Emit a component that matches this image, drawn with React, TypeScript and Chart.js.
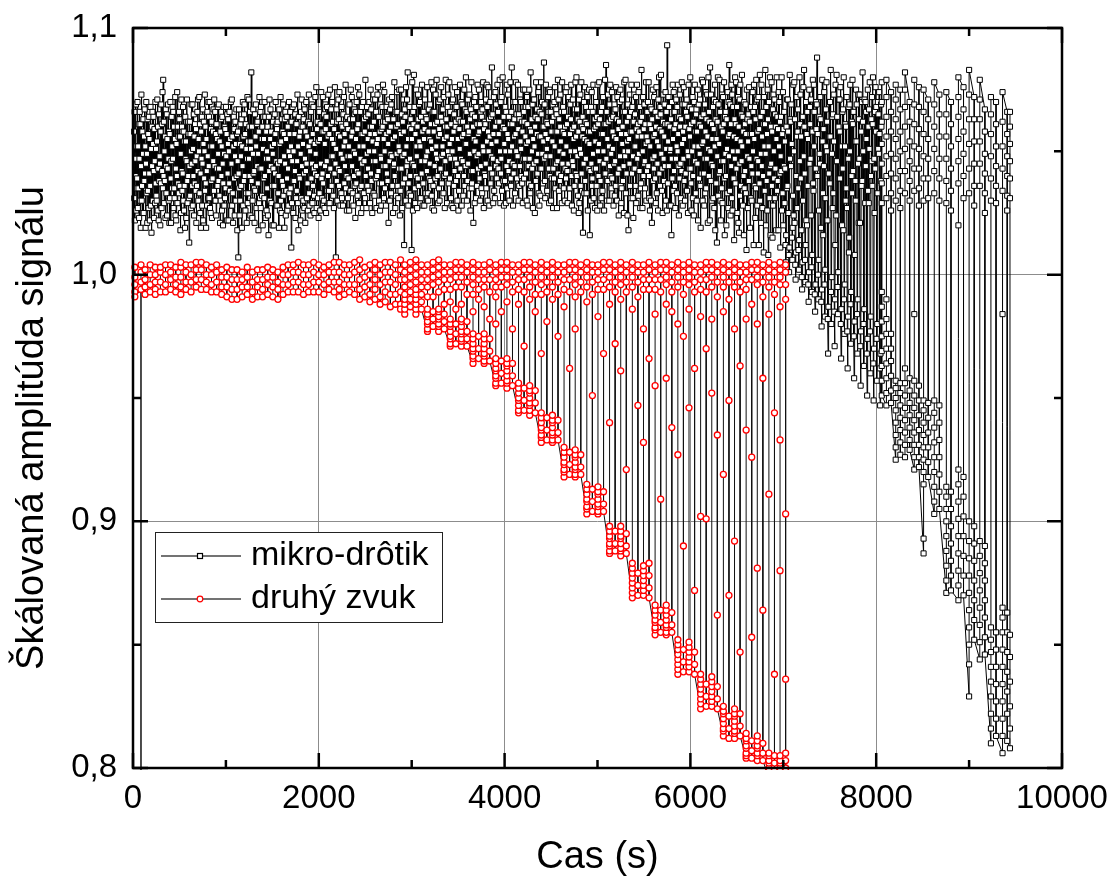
import React, { useEffect, useRef } from "react";
import { Chart, registerables } from "chart.js";

Chart.register(...registerables);

const FONT = '"Liberation Sans", Arial, Helvetica, sans-serif';

// ---- axes / labels ----
const xMajorTicks = [0, 2000, 4000, 6000, 8000, 10000];
const xMinorTicks = [1000, 3000, 5000, 7000, 9000];
const yMajorTicks = [0.8, 0.9, 1.0, 1.1];
const yMinorTicks = [0.85, 0.95, 1.05];
const xGridValues = [2000, 4000, 6000, 8000];
const yGridValues = [0.9, 1.0];
const seriesLabels = ["mikro-drôtik", "druhý zvuk"];
const xTitle = "Cas (s)";
const yTitle = "Škálovaná amplitúda signálu";

// ---- data ----
// each row = [start time (s), amplitudes in recorded order]
// sampled rows: consecutive amplitudes are SAMPLE_DT seconds apart
// burst rows: all amplitudes of the row belong to the same time
const SAMPLE_DT = 3.5;

// mikro-drôtik, steady part (sampled)
const blackNoise: number[][] = [
  [10, 1.058, 1.031, 1.066, 1.022, 1.047, 1.040, 1.069, 1.026, 1.052, 1.035],
  [45, 1.039, 1.070, 1.027, 1.052, 1.035, 1.061, 1.023, 1.047, 1.066, 1.030],
  [80, 1.061, 1.019, 1.044, 1.073, 1.030, 1.036, 1.058, 1.025, 1.049, 1.063],
  [115, 1.025, 1.056, 1.038, 1.067, 1.041, 1.052, 1.019, 1.045, 1.070, 1.033],
  [150, 1.049, 1.021, 1.063, 1.034, 1.057, 1.027, 1.064, 1.041, 1.055, 1.022],
  [185, 1.036, 1.068, 1.028, 1.051, 1.017, 1.060, 1.044, 1.066, 1.030, 1.053],
  [220, 1.064, 1.042, 1.023, 1.059, 1.046, 1.029, 1.070, 1.037, 1.051, 1.032],
  [255, 1.030, 1.054, 1.071, 1.026, 1.060, 1.043, 1.022, 1.065, 1.038, 1.048],
  [290, 1.045, 1.020, 1.058, 1.037, 1.069, 1.027, 1.061, 1.042, 1.074, 1.035],
  [325, 1.079, 1.040, 1.062, 1.029, 1.050, 1.038, 1.056, 1.023, 1.067, 1.044],
  [360, 1.033, 1.065, 1.024, 1.055, 1.043, 1.069, 1.047, 1.030, 1.058, 1.021],
  [395, 1.057, 1.031, 1.070, 1.039, 1.021, 1.046, 1.064, 1.035, 1.052, 1.068],
  [430, 1.047, 1.066, 1.027, 1.060, 1.035, 1.031, 1.055, 1.072, 1.024, 1.043],
  [465, 1.022, 1.053, 1.040, 1.074, 1.029, 1.060, 1.037, 1.056, 1.033, 1.066],
  [500, 1.063, 1.036, 1.056, 1.018, 1.049, 1.025, 1.071, 1.042, 1.060, 1.034],
  [535, 1.041, 1.068, 1.030, 1.058, 1.026, 1.054, 1.036, 1.019, 1.064, 1.047],
  [570, 1.054, 1.023, 1.046, 1.071, 1.038, 1.029, 1.062, 1.040, 1.057, 1.031],
  [605, 1.013, 1.044, 1.062, 1.032, 1.057, 1.050, 1.027, 1.069, 1.045, 1.036],
  [640, 1.069, 1.028, 1.051, 1.040, 1.065, 1.024, 1.056, 1.037, 1.061, 1.046],
  [675, 1.034, 1.059, 1.021, 1.048, 1.036, 1.066, 1.042, 1.071, 1.030, 1.055],
  [710, 1.050, 1.072, 1.033, 1.061, 1.025, 1.041, 1.019, 1.058, 1.047, 1.064],
  [745, 1.028, 1.045, 1.067, 1.022, 1.053, 1.062, 1.039, 1.050, 1.073, 1.034],
  [780, 1.060, 1.037, 1.019, 1.055, 1.042, 1.028, 1.066, 1.048, 1.031, 1.070],
  [815, 1.044, 1.064, 1.031, 1.070, 1.027, 1.052, 1.025, 1.059, 1.038, 1.062],
  [850, 1.023, 1.052, 1.039, 1.058, 1.046, 1.067, 1.034, 1.071, 1.044, 1.030],
  [885, 1.066, 1.030, 1.057, 1.024, 1.061, 1.043, 1.055, 1.036, 1.068, 1.049],
  [920, 1.038, 1.069, 1.043, 1.032, 1.054, 1.021, 1.058, 1.030, 1.063, 1.040],
  [955, 1.052, 1.026, 1.064, 1.045, 1.020, 1.037, 1.068, 1.049, 1.028, 1.060],
  [990, 1.031, 1.059, 1.035, 1.068, 1.048, 1.057, 1.022, 1.065, 1.041, 1.053],
  [1025, 1.063, 1.022, 1.050, 1.037, 1.066, 1.034, 1.055, 1.028, 1.070, 1.045],
  [1060, 1.045, 1.071, 1.028, 1.056, 1.033, 1.021, 1.052, 1.064, 1.039, 1.059],
  [1095, 1.024, 1.048, 1.062, 1.030, 1.053, 1.067, 1.040, 1.057, 1.018, 1.046],
  [1130, 1.058, 1.007, 1.041, 1.067, 1.035, 1.024, 1.053, 1.030, 1.061, 1.048],
  [1165, 1.036, 1.063, 1.019, 1.052, 1.044, 1.070, 1.028, 1.056, 1.038, 1.065],
  [1200, 1.069, 1.040, 1.057, 1.026, 1.061, 1.033, 1.051, 1.021, 1.047, 1.072],
  [1235, 1.029, 1.054, 1.033, 1.071, 1.047, 1.060, 1.040, 1.066, 1.024, 1.054],
  [1270, 1.051, 1.082, 1.038, 1.060, 1.023, 1.030, 1.049, 1.067, 1.041, 1.035],
  [1305, 1.042, 1.021, 1.065, 1.034, 1.056, 1.069, 1.052, 1.027, 1.061, 1.044],
  [1340, 1.062, 1.037, 1.049, 1.018, 1.058, 1.029, 1.072, 1.043, 1.031, 1.066],
  [1375, 1.027, 1.068, 1.043, 1.055, 1.032, 1.060, 1.020, 1.051, 1.064, 1.039],
  [1410, 1.055, 1.031, 1.070, 1.040, 1.064, 1.023, 1.047, 1.058, 1.026, 1.050],
  [1445, 1.035, 1.060, 1.024, 1.047, 1.016, 1.064, 1.042, 1.071, 1.030, 1.055],
  [1480, 1.067, 1.044, 1.058, 1.029, 1.052, 1.036, 1.020, 1.049, 1.062, 1.043],
  [1515, 1.020, 1.053, 1.036, 1.065, 1.041, 1.057, 1.070, 1.028, 1.046, 1.061],
  [1550, 1.059, 1.028, 1.062, 1.045, 1.033, 1.040, 1.019, 1.067, 1.053, 1.026],
  [1585, 1.046, 1.072, 1.030, 1.054, 1.025, 1.063, 1.038, 1.058, 1.036, 1.069],
  [1620, 1.032, 1.057, 1.048, 1.019, 1.063, 1.045, 1.066, 1.024, 1.055, 1.034],
  [1655, 1.064, 1.039, 1.026, 1.060, 1.043, 1.028, 1.050, 1.070, 1.033, 1.057],
  [1690, 1.048, 1.066, 1.035, 1.052, 1.011, 1.062, 1.029, 1.046, 1.068, 1.038],
  [1725, 1.025, 1.050, 1.069, 1.038, 1.057, 1.042, 1.065, 1.023, 1.061, 1.031],
  [1760, 1.061, 1.034, 1.046, 1.073, 1.029, 1.052, 1.018, 1.064, 1.040, 1.056],
  [1795, 1.039, 1.058, 1.022, 1.049, 1.066, 1.031, 1.071, 1.044, 1.026, 1.060],
  [1830, 1.053, 1.030, 1.063, 1.041, 1.027, 1.067, 1.047, 1.021, 1.058, 1.042],
  [1865, 1.070, 1.045, 1.031, 1.056, 1.037, 1.026, 1.062, 1.052, 1.073, 1.033],
  [1900, 1.028, 1.061, 1.050, 1.024, 1.054, 1.066, 1.039, 1.069, 1.045, 1.029],
  [1935, 1.057, 1.036, 1.068, 1.043, 1.032, 1.025, 1.053, 1.041, 1.072, 1.049],
  [1970, 1.044, 1.076, 1.027, 1.059, 1.040, 1.062, 1.031, 1.054, 1.023, 1.067],
  [2005, 1.066, 1.033, 1.055, 1.026, 1.061, 1.045, 1.074, 1.039, 1.058, 1.031],
  [2040, 1.041, 1.072, 1.037, 1.058, 1.030, 1.065, 1.027, 1.053, 1.044, 1.069],
  [2075, 1.059, 1.025, 1.064, 1.046, 1.068, 1.034, 1.056, 1.040, 1.073, 1.029],
  [2110, 1.034, 1.057, 1.029, 1.075, 1.043, 1.061, 1.048, 1.067, 1.036, 1.055],
  [2145, 1.070, 1.048, 1.062, 1.032, 1.053, 1.027, 1.059, 1.041, 1.076, 1.045],
  [2180, 1.045, 1.007, 1.051, 1.067, 1.038, 1.062, 1.030, 1.057, 1.043, 1.071],
  [2215, 1.063, 1.036, 1.074, 1.042, 1.056, 1.028, 1.049, 1.061, 1.033, 1.068],
  [2250, 1.031, 1.060, 1.047, 1.028, 1.065, 1.052, 1.072, 1.037, 1.057, 1.044],
  [2285, 1.054, 1.077, 1.035, 1.061, 1.040, 1.026, 1.064, 1.048, 1.031, 1.059],
  [2320, 1.039, 1.052, 1.026, 1.069, 1.048, 1.063, 1.034, 1.075, 1.044, 1.056],
  [2355, 1.072, 1.044, 1.058, 1.033, 1.063, 1.028, 1.050, 1.040, 1.067, 1.036],
  [2390, 1.049, 1.023, 1.066, 1.055, 1.037, 1.070, 1.042, 1.059, 1.032, 1.076],
  [2425, 1.061, 1.041, 1.029, 1.073, 1.052, 1.035, 1.066, 1.047, 1.057, 1.025],
  [2460, 1.036, 1.068, 1.045, 1.057, 1.027, 1.070, 1.052, 1.033, 1.063, 1.046],
  [2495, 1.058, 1.031, 1.079, 1.040, 1.064, 1.027, 1.049, 1.068, 1.036, 1.055],
  [2530, 1.043, 1.065, 1.034, 1.050, 1.070, 1.060, 1.029, 1.057, 1.075, 1.041],
  [2565, 1.067, 1.038, 1.060, 1.025, 1.054, 1.046, 1.071, 1.033, 1.062, 1.050],
  [2600, 1.032, 1.057, 1.071, 1.046, 1.039, 1.066, 1.027, 1.053, 1.040, 1.073],
  [2635, 1.055, 1.076, 1.042, 1.064, 1.030, 1.037, 1.058, 1.026, 1.069, 1.048],
  [2670, 1.047, 1.028, 1.059, 1.037, 1.068, 1.060, 1.077, 1.044, 1.055, 1.031],
  [2705, 1.074, 1.050, 1.035, 1.062, 1.044, 1.028, 1.057, 1.068, 1.041, 1.064],
  [2740, 1.038, 1.063, 1.053, 1.021, 1.058, 1.071, 1.046, 1.030, 1.067, 1.049],
  [2775, 1.060, 1.033, 1.069, 1.048, 1.072, 1.036, 1.055, 1.025, 1.063, 1.044],
  [2810, 1.045, 1.078, 1.040, 1.056, 1.027, 1.066, 1.032, 1.060, 1.049, 1.074],
  [2845, 1.066, 1.036, 1.061, 1.031, 1.052, 1.043, 1.075, 1.050, 1.024, 1.058],
  [2880, 1.034, 1.057, 1.075, 1.043, 1.065, 1.027, 1.048, 1.062, 1.037, 1.071],
  [2915, 1.058, 1.012, 1.049, 1.067, 1.039, 1.064, 1.030, 1.076, 1.052, 1.044],
  [2950, 1.071, 1.046, 1.082, 1.055, 1.028, 1.037, 1.060, 1.033, 1.068, 1.047],
  [2985, 1.040, 1.063, 1.032, 1.059, 1.010, 1.055, 1.078, 1.045, 1.026, 1.066],
  [3020, 1.061, 1.081, 1.044, 1.068, 1.035, 1.029, 1.057, 1.040, 1.075, 1.052],
  [3055, 1.048, 1.027, 1.060, 1.039, 1.073, 1.063, 1.036, 1.069, 1.054, 1.031],
  [3090, 1.070, 1.052, 1.031, 1.064, 1.046, 1.041, 1.077, 1.058, 1.028, 1.062],
  [3125, 1.037, 1.066, 1.055, 1.028, 1.059, 1.071, 1.046, 1.033, 1.064, 1.048],
  [3160, 1.063, 1.042, 1.076, 1.050, 1.033, 1.030, 1.058, 1.067, 1.039, 1.055],
  [3195, 1.045, 1.069, 1.038, 1.061, 1.054, 1.078, 1.032, 1.051, 1.027, 1.066],
  [3230, 1.075, 1.036, 1.058, 1.026, 1.066, 1.044, 1.061, 1.039, 1.073, 1.049],
  [3265, 1.052, 1.079, 1.047, 1.062, 1.040, 1.029, 1.056, 1.070, 1.035, 1.059],
  [3300, 1.030, 1.057, 1.071, 1.043, 1.064, 1.076, 1.048, 1.037, 1.062, 1.052],
  [3335, 1.067, 1.049, 1.033, 1.072, 1.055, 1.040, 1.027, 1.060, 1.046, 1.079],
  [3370, 1.041, 1.063, 1.056, 1.029, 1.060, 1.068, 1.050, 1.073, 1.037, 1.048],
  [3405, 1.078, 1.053, 1.039, 1.066, 1.047, 1.031, 1.061, 1.028, 1.055, 1.070],
  [3440, 1.050, 1.071, 1.027, 1.058, 1.036, 1.065, 1.042, 1.076, 1.047, 1.060],
  [3475, 1.062, 1.038, 1.068, 1.045, 1.074, 1.030, 1.055, 1.040, 1.026, 1.063],
  [3510, 1.034, 1.059, 1.051, 1.077, 1.043, 1.062, 1.047, 1.070, 1.028, 1.056],
  [3545, 1.069, 1.046, 1.062, 1.032, 1.057, 1.040, 1.075, 1.036, 1.053, 1.067],
  [3580, 1.044, 1.080, 1.053, 1.066, 1.030, 1.060, 1.038, 1.071, 1.045, 1.057],
  [3615, 1.058, 1.035, 1.073, 1.049, 1.063, 1.026, 1.067, 1.042, 1.078, 1.035],
  [3650, 1.037, 1.065, 1.042, 1.060, 1.021, 1.055, 1.070, 1.050, 1.029, 1.064],
  [3685, 1.072, 1.054, 1.031, 1.068, 1.048, 1.036, 1.061, 1.077, 1.043, 1.057],
  [3720, 1.049, 1.075, 1.058, 1.039, 1.061, 1.030, 1.066, 1.044, 1.070, 1.035],
  [3755, 1.064, 1.033, 1.067, 1.052, 1.078, 1.050, 1.027, 1.059, 1.041, 1.062],
  [3790, 1.040, 1.061, 1.045, 1.071, 1.035, 1.077, 1.054, 1.068, 1.030, 1.058],
  [3825, 1.076, 1.050, 1.063, 1.028, 1.056, 1.043, 1.070, 1.037, 1.064, 1.048],
  [3860, 1.053, 1.084, 1.041, 1.065, 1.047, 1.029, 1.057, 1.072, 1.034, 1.060],
  [3895, 1.031, 1.060, 1.074, 1.044, 1.069, 1.054, 1.039, 1.062, 1.077, 1.046],
  [3930, 1.066, 1.043, 1.057, 1.037, 1.062, 1.079, 1.050, 1.029, 1.070, 1.041],
  [3965, 1.047, 1.072, 1.034, 1.059, 1.080, 1.060, 1.038, 1.064, 1.028, 1.053],
  [4000, 1.059, 1.038, 1.068, 1.050, 1.029, 1.066, 1.044, 1.077, 1.035, 1.057],
  [4035, 1.073, 1.055, 1.042, 1.064, 1.046, 1.030, 1.061, 1.050, 1.078, 1.039],
  [4070, 1.036, 1.066, 1.084, 1.052, 1.061, 1.045, 1.028, 1.070, 1.041, 1.056],
  [4105, 1.063, 1.044, 1.033, 1.070, 1.057, 1.078, 1.050, 1.065, 1.039, 1.048],
  [4140, 1.048, 1.077, 1.059, 1.030, 1.065, 1.036, 1.063, 1.044, 1.071, 1.054],
  [4175, 1.070, 1.051, 1.040, 1.062, 1.037, 1.058, 1.029, 1.075, 1.047, 1.066],
  [4210, 1.039, 1.062, 1.075, 1.047, 1.056, 1.068, 1.041, 1.053, 1.030, 1.072],
  [4245, 1.061, 1.028, 1.054, 1.068, 1.044, 1.037, 1.075, 1.047, 1.059, 1.033],
  [4280, 1.082, 1.058, 1.036, 1.063, 1.050, 1.043, 1.069, 1.027, 1.055, 1.071],
  [4315, 1.045, 1.071, 1.052, 1.025, 1.060, 1.064, 1.038, 1.078, 1.046, 1.057],
  [4350, 1.067, 1.041, 1.063, 1.049, 1.074, 1.033, 1.056, 1.028, 1.066, 1.043],
  [4385, 1.032, 1.056, 1.078, 1.043, 1.065, 1.070, 1.049, 1.060, 1.037, 1.054],
  [4420, 1.060, 1.086, 1.047, 1.069, 1.038, 1.031, 1.057, 1.077, 1.048, 1.062],
  [4455, 1.051, 1.034, 1.061, 1.055, 1.072, 1.066, 1.043, 1.029, 1.075, 1.040],
  [4490, 1.074, 1.048, 1.066, 1.030, 1.058, 1.039, 1.062, 1.054, 1.069, 1.027],
  [4525, 1.043, 1.064, 1.039, 1.070, 1.052, 1.076, 1.035, 1.058, 1.045, 1.067],
  [4560, 1.065, 1.027, 1.058, 1.046, 1.079, 1.041, 1.071, 1.034, 1.063, 1.050],
  [4595, 1.038, 1.060, 1.073, 1.054, 1.040, 1.066, 1.029, 1.078, 1.045, 1.058],
  [4630, 1.068, 1.049, 1.035, 1.066, 1.057, 1.030, 1.060, 1.043, 1.074, 1.039],
  [4665, 1.052, 1.076, 1.061, 1.042, 1.029, 1.064, 1.045, 1.072, 1.035, 1.057],
  [4700, 1.035, 1.057, 1.069, 1.050, 1.063, 1.077, 1.040, 1.028, 1.059, 1.046],
  [4735, 1.071, 1.044, 1.055, 1.026, 1.060, 1.036, 1.067, 1.050, 1.078, 1.041],
  [4770, 1.056, 1.080, 1.040, 1.067, 1.048, 1.063, 1.032, 1.058, 1.025, 1.071],
  [4805, 1.029, 1.062, 1.051, 1.073, 1.036, 1.049, 1.078, 1.041, 1.060, 1.056],
  [4840, 1.064, 1.017, 1.059, 1.045, 1.070, 1.033, 1.055, 1.076, 1.038, 1.062],
  [4875, 1.047, 1.068, 1.033, 1.061, 1.054, 1.072, 1.026, 1.058, 1.043, 1.066],
  [4910, 1.075, 1.053, 1.016, 1.058, 1.042, 1.030, 1.068, 1.045, 1.074, 1.036],
  [4945, 1.039, 1.066, 1.049, 1.077, 1.031, 1.059, 1.043, 1.063, 1.027, 1.054],
  [4980, 1.060, 1.043, 1.070, 1.036, 1.064, 1.026, 1.077, 1.050, 1.061, 1.040],
  [5015, 1.053, 1.078, 1.046, 1.063, 1.028, 1.038, 1.066, 1.057, 1.031, 1.072],
  [5050, 1.068, 1.034, 1.057, 1.072, 1.050, 1.045, 1.026, 1.061, 1.041, 1.079],
  [5085, 1.041, 1.061, 1.085, 1.047, 1.066, 1.030, 1.055, 1.038, 1.073, 1.052],
  [5120, 1.062, 1.052, 1.030, 1.069, 1.044, 1.077, 1.040, 1.063, 1.049, 1.035],
  [5155, 1.074, 1.039, 1.058, 1.051, 1.064, 1.028, 1.056, 1.045, 1.069, 1.032],
  [5190, 1.046, 1.067, 1.036, 1.076, 1.055, 1.063, 1.030, 1.072, 1.041, 1.059],
  [5225, 1.059, 1.024, 1.062, 1.043, 1.070, 1.048, 1.075, 1.036, 1.057, 1.029],
  [5260, 1.035, 1.071, 1.053, 1.060, 1.038, 1.066, 1.044, 1.025, 1.078, 1.050],
  [5295, 1.066, 1.048, 1.079, 1.033, 1.057, 1.041, 1.062, 1.054, 1.024, 1.069],
  [5330, 1.050, 1.018, 1.064, 1.055, 1.045, 1.073, 1.036, 1.058, 1.031, 1.066],
  [5365, 1.077, 1.058, 1.041, 1.068, 1.031, 1.048, 1.023, 1.062, 1.052, 1.073],
  [5400, 1.043, 1.065, 1.052, 1.036, 1.072, 1.029, 1.059, 1.077, 1.047, 1.056],
  [5435, 1.061, 1.032, 1.074, 1.049, 1.058, 1.042, 1.068, 1.027, 1.062, 1.035],
  [5470, 1.037, 1.083, 1.056, 1.064, 1.027, 1.050, 1.072, 1.040, 1.059, 1.045],
  [5505, 1.069, 1.046, 1.035, 1.061, 1.053, 1.078, 1.030, 1.056, 1.042, 1.066],
  [5540, 1.054, 1.070, 1.044, 1.078, 1.040, 1.031, 1.061, 1.026, 1.052, 1.068],
  [5575, 1.030, 1.059, 1.067, 1.021, 1.063, 1.047, 1.075, 1.038, 1.056, 1.043],
  [5610, 1.072, 1.048, 1.057, 1.039, 1.066, 1.029, 1.060, 1.076, 1.033, 1.054],
  [5645, 1.045, 1.064, 1.026, 1.071, 1.052, 1.080, 1.041, 1.059, 1.036, 1.068],
  [5680, 1.065, 1.081, 1.049, 1.058, 1.034, 1.043, 1.025, 1.062, 1.073, 1.047],
  [5715, 1.038, 1.056, 1.069, 1.044, 1.061, 1.074, 1.030, 1.051, 1.066, 1.026],
  [5750, 1.093, 1.061, 1.037, 1.054, 1.072, 1.044, 1.068, 1.028, 1.060, 1.050],
  [5785, 1.051, 1.028, 1.063, 1.016, 1.047, 1.070, 1.039, 1.077, 1.055, 1.034],
  [5820, 1.074, 1.042, 1.059, 1.066, 1.036, 1.027, 1.061, 1.047, 1.071, 1.052],
  [5855, 1.033, 1.068, 1.050, 1.077, 1.057, 1.044, 1.024, 1.064, 1.039, 1.073],
  [5890, 1.060, 1.045, 1.031, 1.063, 1.042, 1.078, 1.053, 1.069, 1.028, 1.058],
  [5925, 1.047, 1.076, 1.055, 1.038, 1.069, 1.030, 1.060, 1.041, 1.066, 1.034],
  [5960, 1.071, 1.034, 1.064, 1.050, 1.025, 1.048, 1.077, 1.043, 1.059, 1.068],
  [5995, 1.056, 1.080, 1.043, 1.061, 1.037, 1.026, 1.067, 1.050, 1.072, 1.031],
  [6030, 1.040, 1.062, 1.024, 1.070, 1.052, 1.077, 1.046, 1.058, 1.033, 1.065],
  [6065, 1.067, 1.030, 1.058, 1.045, 1.075, 1.022, 1.052, 1.069, 1.039, 1.061],
  [6100, 1.049, 1.071, 1.036, 1.019, 1.060, 1.064, 1.041, 1.079, 1.053, 1.030],
  [6135, 1.078, 1.054, 1.065, 1.041, 1.028, 1.047, 1.069, 1.033, 1.058, 1.074],
  [6170, 1.035, 1.063, 1.047, 1.073, 1.056, 1.021, 1.051, 1.080, 1.040, 1.066],
  [6205, 1.062, 1.022, 1.084, 1.050, 1.038, 1.073, 1.045, 1.030, 1.061, 1.055],
  [6240, 1.044, 1.068, 1.031, 1.059, 1.071, 1.027, 1.052, 1.077, 1.018, 1.063],
  [6275, 1.070, 1.037, 1.055, 1.013, 1.048, 1.062, 1.080, 1.032, 1.069, 1.041],
  [6310, 1.053, 1.079, 1.042, 1.066, 1.030, 1.022, 1.046, 1.060, 1.035, 1.073],
  [6345, 1.029, 1.058, 1.072, 1.046, 1.061, 1.078, 1.039, 1.016, 1.064, 1.049],
  [6380, 1.066, 1.040, 1.020, 1.063, 1.051, 1.033, 1.074, 1.056, 1.027, 1.070],
  [6415, 1.048, 1.085, 1.057, 1.034, 1.069, 1.024, 1.061, 1.044, 1.077, 1.031],
  [6450, 1.073, 1.026, 1.050, 1.068, 1.039, 1.056, 1.014, 1.063, 1.047, 1.080],
  [6485, 1.037, 1.061, 1.078, 1.043, 1.055, 1.068, 1.025, 1.050, 1.072, 1.021],
  [6520, 1.060, 1.017, 1.045, 1.071, 1.032, 1.077, 1.054, 1.036, 1.065, 1.046],
  [6555, 1.081, 1.052, 1.064, 1.028, 1.058, 1.040, 1.016, 1.070, 1.035, 1.061],
  [6590, 1.042, 1.069, 1.033, 1.057, 1.010, 1.075, 1.048, 1.063, 1.027, 1.054],
  [6625, 1.065, 1.038, 1.076, 1.047, 1.062, 1.019, 1.057, 1.031, 1.068, 1.044],
  [6660, 1.030, 1.057, 1.041, 1.074, 1.050, 1.066, 1.012, 1.077, 1.055, 1.036],
  [6695, 1.068, 1.023, 1.063, 1.035, 1.079, 1.047, 1.071, 1.028, 1.058, 1.041],
  [6730, 1.046, 1.072, 1.012, 1.059, 1.037, 1.081, 1.030, 1.064, 1.049, 1.021],
  [6765, 1.077, 1.044, 1.056, 1.027, 1.066, 1.040, 1.061, 1.009, 1.072, 1.052],
  [6800, 1.034, 1.061, 1.083, 1.049, 1.020, 1.068, 1.038, 1.057, 1.026, 1.075],
  [6835, 1.063, 1.008, 1.052, 1.070, 1.041, 1.031, 1.080, 1.044, 1.016, 1.060],
  [6870, 1.045, 1.078, 1.036, 1.058, 1.015, 1.067, 1.028, 1.073, 1.050, 1.039],
  [6905, 1.071, 1.031, 1.065, 1.043, 1.060, 1.018, 1.055, 1.080, 1.034, 1.064],
  [6940, 1.038, 1.059, 1.018, 1.074, 1.052, 1.070, 1.041, 1.062, 1.011, 1.048],
  [6975, 1.064, 1.042, 1.080, 1.026, 1.057, 1.033, 1.074, 1.020, 1.059, 1.044],
];

// mikro-drôtik, onset of the decay (sampled)
const blackOnset: number[][] = [
  [7010, 1.066, 1.029, 1.054, 1.043, 1.012, 1.005, 1.016, 1.060, 1.035, 1.071],
  [7045, 1.036, 1.071, 1.058, 1.025, 1.008, 1.001, 1.011, 1.081, 1.047, 1.063],
  [7080, 1.062, 1.044, 1.069, 1.053, 1.015, 1.006, 1.019, 1.032, 1.077, 1.024],
  [7115, 1.050, 1.078, 1.021, 1.063, 1.004, 0.998, 1.009, 1.040, 1.072, 1.056],
  [7150, 1.027, 1.058, 1.067, 1.035, 1.010, 1.002, 1.014, 1.080, 1.046, 1.061],
  [7185, 1.073, 1.039, 1.056, 1.018, 0.999, 0.994, 1.005, 1.064, 1.030, 1.076],
  [7220, 1.048, 1.083, 1.060, 1.041, 1.006, 0.997, 1.012, 1.070, 1.022, 1.057],
  [7255, 1.020, 1.066, 1.036, 1.055, 0.996, 0.989, 1.001, 1.075, 1.045, 1.068],
  [7290, 1.061, 1.047, 1.071, 1.024, 1.003, 0.993, 1.008, 1.058, 1.079, 1.037],
  [7325, 1.034, 1.077, 1.052, 1.066, 0.992, 0.985, 0.996, 1.043, 1.070, 1.059],
  [7360, 1.069, 1.088, 1.040, 1.057, 1.000, 0.990, 1.006, 1.026, 1.064, 1.049],
  [7395, 1.045, 1.072, 1.063, 1.019, 0.989, 0.979, 0.994, 1.079, 1.054, 1.033],
  [7430, 1.016, 1.059, 1.044, 1.074, 0.996, 0.983, 1.002, 1.031, 1.067, 1.052],
  [7465, 1.078, 1.050, 1.062, 1.022, 0.982, 0.968, 0.987, 1.041, 1.070, 1.056],
  [7500, 1.037, 1.070, 1.056, 1.083, 0.993, 0.980, 0.999, 1.049, 1.064, 1.027],
  [7535, 1.065, 1.033, 1.073, 1.054, 0.985, 0.971, 0.990, 1.012, 1.077, 1.046],
  [7570, 1.024, 1.081, 1.046, 1.064, 0.995, 0.984, 1.001, 1.060, 1.039, 1.071],
  [7605, 1.071, 1.058, 1.039, 1.076, 0.980, 0.966, 0.986, 1.052, 1.020, 1.066],
  [7640, 1.043, 1.067, 1.018, 1.080, 0.990, 0.976, 0.996, 1.052, 1.061, 1.030],
  [7675, 1.060, 1.035, 1.072, 1.027, 0.977, 0.962, 0.983, 1.047, 1.068, 1.009],
  [7710, 1.015, 1.069, 1.050, 1.077, 0.988, 0.972, 0.993, 1.040, 1.062, 1.033],
  [7745, 1.079, 1.061, 1.042, 1.066, 0.975, 0.958, 0.981, 1.008, 1.054, 1.038],
  [7780, 1.030, 1.075, 1.054, 1.069, 0.984, 0.968, 0.990, 1.045, 1.073, 1.021],
  [7815, 1.063, 1.047, 1.073, 1.021, 0.971, 0.955, 0.977, 1.058, 1.036, 1.070],
  [7850, 1.038, 1.082, 1.062, 1.050, 0.980, 0.963, 0.986, 1.071, 1.044, 1.029],
  [7885, 1.070, 1.044, 1.066, 1.055, 0.968, 0.951, 0.974, 1.075, 1.034, 1.060],
  [7920, 1.029, 1.067, 1.051, 1.078, 0.977, 0.960, 0.983, 1.040, 1.063, 1.046],
  [7955, 1.072, 1.036, 1.061, 1.080, 0.964, 0.949, 0.970, 1.047, 1.025, 1.066],
  [7990, 1.043, 1.076, 1.058, 1.068, 0.974, 0.957, 0.980, 1.033, 1.070, 1.051],
  [8025, 1.065, 1.049, 1.074, 1.057, 0.962, 0.947, 0.968, 1.038, 1.069, 1.060],
];

// mikro-drôtik, late decay (bursts)
const blackBursts: number[][] = [
  [8060, 1.078, 1.070, 1.062, 1.053, 1.045, 1.037, 1.029, 0.993, 0.987, 0.981, 0.975, 0.969, 0.963, 0.957, 0.951],
  [8110, 0.947, 0.952, 0.958, 0.964, 0.970, 0.976, 0.982, 0.990, 1.031, 1.040, 1.048, 1.056, 1.064, 1.072, 1.079],
  [8160, 1.074, 1.066, 1.058, 1.049, 1.041, 1.033, 1.026, 0.976, 0.970, 0.965, 0.959, 0.953, 0.948],
  [8210, 0.925, 0.930, 0.935, 0.940, 0.945, 0.950, 0.954, 0.957, 1.030, 1.039, 1.047, 1.055, 1.063, 1.071, 1.077],
  [8260, 1.075, 1.067, 1.058, 1.050, 1.042, 1.034, 1.027, 0.956, 0.952, 0.947, 0.942, 0.937, 0.932, 0.927],
  [8310, 0.926, 0.931, 0.936, 0.941, 0.946, 0.951, 0.956, 0.962, 1.033, 1.042, 1.051, 1.060, 1.068, 1.075, 1.082],
  [8360, 1.070, 1.062, 1.054, 1.046, 1.038, 1.030, 0.958, 0.953, 0.948, 0.943, 0.938, 0.933, 0.929],
  [8410, 0.921, 0.926, 0.931, 0.936, 0.941, 0.946, 0.951, 0.957, 0.984, 1.034, 1.043, 1.052, 1.061, 1.069, 1.079],
  [8460, 1.076, 1.068, 1.059, 1.051, 1.043, 1.035, 1.028, 0.955, 0.949, 0.943, 0.937, 0.931, 0.926, 0.922],
  [8510, 0.887, 0.893, 0.915, 0.920, 0.925, 0.930, 0.935, 0.940, 0.945, 0.949, 1.030, 1.039, 1.048, 1.057, 1.066, 1.075],
  [8560, 1.071, 1.063, 1.055, 1.047, 1.039, 1.031, 0.948, 0.942, 0.936, 0.930, 0.924, 0.918],
  [8625, 0.903, 0.908, 0.914, 0.920, 0.926, 0.932, 0.938, 0.944, 0.949, 1.033, 1.042, 1.051, 1.060, 1.069, 1.078],
  [8680, 1.073, 1.065, 1.056, 1.047, 1.039, 1.030, 0.947, 0.940, 0.933, 0.926, 0.919, 0.912, 0.905],
  [8755, 0.871, 0.876, 0.882, 0.888, 0.894, 0.900, 0.905, 0.910, 0.914, 1.029, 1.038, 1.047, 1.056, 1.065, 1.074],
  [8805, 1.070, 1.061, 1.052, 1.043, 1.034, 1.026, 0.912, 0.905, 0.898, 0.891, 0.884, 0.878, 0.872],
  [8885, 0.868, 0.874, 0.880, 0.887, 0.894, 0.901, 0.908, 0.915, 0.921, 1.020, 1.037, 1.046, 1.055, 1.064, 1.072, 1.080],
  [8940, 1.076, 1.067, 1.058, 1.049, 1.040, 1.031, 0.918, 0.910, 0.902, 0.894, 0.886, 0.878, 0.870],
  [9000, 0.829, 0.842, 0.850, 0.857, 0.864, 0.871, 0.878, 0.885, 0.892, 0.900, 1.033, 1.043, 1.053, 1.063, 1.073, 1.083],
  [9055, 1.072, 1.063, 1.054, 1.045, 1.036, 1.028, 0.898, 0.891, 0.884, 0.876, 0.868, 0.860, 0.852],
  [9115, 0.844, 0.851, 0.858, 0.865, 0.872, 0.879, 0.886, 0.892, 1.036, 1.045, 1.054, 1.063, 1.071, 1.079],
  [9170, 1.067, 1.058, 1.049, 1.041, 1.033, 1.025, 0.890, 0.883, 0.876, 0.868, 0.861, 0.853, 0.846],
  [9235, 0.810, 0.816, 0.822, 0.829, 0.835, 0.841, 0.847, 0.852, 0.857, 1.030, 1.039, 1.048, 1.057, 1.065, 1.072],
  [9290, 1.070, 1.061, 1.052, 1.044, 1.036, 1.029, 0.855, 0.848, 0.841, 0.834, 0.827, 0.820, 0.813],
  [9360, 0.806, 0.813, 0.820, 0.827, 0.834, 0.841, 0.848, 0.855, 0.861, 0.865, 0.984, 1.034, 1.043, 1.052, 1.062, 1.074],
  [9410, 1.066, 1.057, 1.048, 1.040, 1.032, 1.026, 0.863, 0.855, 0.847, 0.839, 0.831, 0.822, 0.811],
  [9440, 0.808, 0.816, 0.825, 0.835, 0.845, 0.854, 1.031, 1.039, 1.046, 1.053, 1.060, 1.066],
];

// druhý zvuk, steady part (bursts)
const redFlat: number[][] = [
  [20, 1.003, 0.999, 0.996, 0.993, 0.991], [86, 0.994, 0.6, 0.997, 1.001, 1.004],
  [130, 1.002, 0.998, 0.995, 0.992], [185, 0.993, 0.996, 1.0, 1.004],
  [240, 1.003, 1.0, 0.997, 0.994, 0.992], [295, 0.993, 0.997, 1.001, 1.003],
  [350, 1.004, 1.0, 0.996, 0.993], [405, 0.994, 0.998, 1.001, 1.004],
  [460, 1.003, 0.999, 0.996, 0.993], [515, 0.992, 0.995, 0.999, 1.003, 1.005],
  [570, 1.004, 1.001, 0.997, 0.994], [625, 0.993, 0.997, 1.0, 1.004],
  [680, 1.005, 1.002, 0.998, 0.995], [735, 0.994, 0.998, 1.002, 1.005],
  [790, 1.004, 1.0, 0.997, 0.994], [845, 0.993, 0.996, 1.0, 1.003],
  [900, 1.004, 1.001, 0.997, 0.993], [955, 0.992, 0.995, 0.999, 1.002],
  [1010, 1.003, 0.999, 0.995, 0.991], [1065, 0.99, 0.994, 0.998, 1.002],
  [1120, 1.002, 0.998, 0.994, 0.99], [1175, 0.991, 0.995, 0.998, 1.001],
  [1230, 1.003, 0.999, 0.995, 0.992], [1285, 0.99, 0.993, 0.997, 1.001],
  [1340, 1.002, 0.998, 0.995, 0.991], [1395, 0.991, 0.994, 0.998, 1.002],
  [1450, 1.003, 0.999, 0.996, 0.992], [1505, 0.991, 0.995, 0.999, 1.002],
  [1560, 1.001, 0.997, 0.994, 0.99], [1615, 0.992, 0.996, 1.0, 1.003],
  [1670, 1.004, 1.0, 0.996, 0.993], [1725, 0.993, 0.997, 1.001, 1.004],
  [1780, 1.005, 1.001, 0.997, 0.993], [1835, 0.992, 0.996, 1.0, 1.004],
  [1890, 1.004, 1.0, 0.996, 0.993], [1945, 0.993, 0.997, 1.001, 1.005],
  [2000, 1.004, 1.0, 0.997, 0.993], [2055, 0.992, 0.996, 1.0, 1.003],
  [2110, 1.004, 1.001, 0.997, 0.994], [2165, 0.993, 0.997, 1.001, 1.005],
  [2220, 1.005, 1.001, 0.997, 0.994, 0.991], [2275, 0.992, 0.996, 1.0, 1.004],
  [2330, 1.004, 1.0, 0.996, 0.993], [2385, 0.992, 0.996, 1.001, 1.005],
  [2440, 1.006, 1.002, 0.998, 0.994, 0.99], [2495, 0.991, 0.995, 0.999, 1.003],
  [2550, 1.004, 1.0, 0.996, 0.992, 0.989], [2605, 0.99, 0.994, 0.998, 1.002, 1.005],
  [2660, 1.004, 1.0, 0.996, 0.991, 0.988], [2715, 0.989, 0.993, 0.997, 1.001, 1.005],
  [2770, 1.005, 1.001, 0.997, 0.992, 0.987], [2825, 0.988, 0.992, 0.996, 1.0, 1.004],
  [2880, 1.006, 1.002, 0.998, 0.993, 0.988, 0.986],
];

// druhý zvuk, decay (bursts)
const redFade: number[][] = [
  [2925, 0.984, 0.986, 0.988, 0.99, 0.992, 0.995, 0.998, 1.001, 1.004],
  [2985, 1.005, 1.002, 0.999, 0.996, 0.993, 0.99, 0.987],
  [3045, 0.984, 0.986, 0.988, 0.99, 0.992, 0.994, 0.997, 1.0, 1.003, 1.006],
  [3105, 1.004, 1.001, 0.998, 0.995, 0.992, 0.989, 0.986],
  [3170, 0.977, 0.978, 0.98, 0.981, 0.983, 0.984, 0.986, 0.991, 0.995, 0.998, 1.001, 1.004],
  [3230, 1.005, 1.002, 0.999, 0.996, 0.991, 0.985, 0.982, 0.979],
  [3290, 0.977, 0.979, 0.98, 0.982, 0.983, 0.985, 0.986, 0.993, 0.997, 1.0, 1.003, 1.006],
  [3350, 1.004, 1.001, 0.998, 0.994, 0.988, 0.984, 0.981, 0.978],
  [3415, 0.971, 0.972, 0.974, 0.975, 0.977, 0.979, 0.98, 0.982, 0.989, 0.994, 0.998, 1.001, 1.004],
  [3475, 1.005, 1.002, 0.999, 0.995, 0.986, 0.98, 0.976, 0.972],
  [3535, 0.971, 0.973, 0.974, 0.976, 0.977, 0.979, 0.981, 0.982, 0.988, 0.995, 0.999, 1.002, 1.005],
  [3595, 1.004, 1.001, 0.997, 0.992, 0.981, 0.977, 0.974, 0.971],
  [3660, 0.964, 0.966, 0.967, 0.969, 0.97, 0.972, 0.974, 0.976, 0.985, 0.992, 0.996, 0.999, 1.002, 1.005],
  [3720, 1.004, 1.001, 0.998, 0.994, 0.99, 0.975, 0.97, 0.966],
  [3780, 0.964, 0.965, 0.967, 0.968, 0.97, 0.972, 0.974, 0.976, 0.987, 0.995, 0.998, 1.001, 1.004],
  [3840, 1.005, 1.002, 0.998, 0.993, 0.982, 0.974, 0.969, 0.965],
  [3905, 0.955, 0.956, 0.958, 0.959, 0.961, 0.962, 0.964, 0.966, 0.98, 0.991, 0.995, 0.998, 1.001, 1.004],
  [3965, 1.005, 1.002, 0.999, 0.995, 0.985, 0.965, 0.96, 0.956],
  [4025, 0.954, 0.956, 0.957, 0.959, 0.961, 0.963, 0.964, 0.966, 0.989, 0.996, 0.999, 1.002, 1.005],
  [4085, 1.004, 1.001, 0.997, 0.993, 0.978, 0.964, 0.959, 0.955],
  [4150, 0.944, 0.945, 0.947, 0.949, 0.95, 0.952, 0.954, 0.956, 0.988, 0.994, 0.998, 1.001, 1.004],
  [4210, 1.005, 1.002, 0.998, 0.993, 0.971, 0.954, 0.949, 0.945],
  [4270, 0.943, 0.945, 0.947, 0.948, 0.95, 0.952, 0.953, 0.955, 0.99, 0.995, 0.999, 1.002, 1.005],
  [4330, 1.004, 1.001, 0.997, 0.992, 0.985, 0.953, 0.948, 0.944],
  [4395, 0.932, 0.934, 0.935, 0.937, 0.938, 0.94, 0.942, 0.944, 0.968, 0.992, 0.996, 0.999, 1.002, 1.005],
  [4455, 1.004, 1.001, 0.997, 0.993, 0.981, 0.942, 0.937, 0.933],
  [4515, 0.932, 0.933, 0.935, 0.936, 0.938, 0.94, 0.941, 0.943, 0.99, 0.995, 0.999, 1.002, 1.005],
  [4575, 1.004, 1.001, 0.997, 0.992, 0.975, 0.941, 0.936, 0.933],
  [4640, 0.918, 0.92, 0.921, 0.923, 0.924, 0.926, 0.928, 0.93, 0.987, 0.994, 0.998, 1.001, 1.004],
  [4700, 1.005, 1.002, 0.998, 0.993, 0.962, 0.928, 0.923, 0.919],
  [4760, 0.918, 0.919, 0.921, 0.922, 0.924, 0.926, 0.927, 0.929, 0.978, 0.991, 0.996, 0.999, 1.002, 1.005],
  [4820, 1.004, 1.001, 0.997, 0.993, 0.927, 0.922, 0.919],
  [4885, 0.903, 0.905, 0.906, 0.908, 0.909, 0.911, 0.913, 0.915, 0.989, 0.995, 0.999, 1.002, 1.005],
  [4945, 1.004, 1.001, 0.997, 0.992, 0.951, 0.913, 0.908, 0.904],
  [5005, 0.903, 0.904, 0.906, 0.907, 0.909, 0.911, 0.912, 0.914, 0.983, 0.994, 0.998, 1.001, 1.004],
  [5065, 1.005, 1.002, 0.998, 0.994, 0.968, 0.912, 0.907, 0.904],
  [5130, 0.887, 0.888, 0.89, 0.891, 0.893, 0.894, 0.896, 0.898, 0.94, 0.988, 0.995, 0.999, 1.002, 1.005],
  [5190, 1.004, 1.001, 0.997, 0.993, 0.972, 0.896, 0.891, 0.888],
  [5250, 0.886, 0.888, 0.889, 0.891, 0.893, 0.894, 0.896, 0.898, 0.961, 0.99, 0.996, 0.999, 1.002, 1.005],
  [5310, 1.004, 1.001, 0.997, 0.993, 0.921, 0.895, 0.89, 0.887],
  [5375, 0.869, 0.871, 0.873, 0.875, 0.877, 0.879, 0.881, 0.883, 0.986, 0.995, 0.999, 1.002, 1.005],
  [5435, 1.004, 1.001, 0.997, 0.991, 0.947, 0.879, 0.874, 0.87],
  [5495, 0.87, 0.872, 0.874, 0.876, 0.878, 0.88, 0.882, 0.932, 0.978, 0.994, 0.998, 1.001, 1.004],
  [5555, 1.005, 1.002, 0.998, 0.994, 0.966, 0.883, 0.878, 0.873, 0.869],
  [5620, 0.854, 0.856, 0.857, 0.859, 0.86, 0.862, 0.864, 0.866, 0.955, 0.984, 0.994, 0.998, 1.001, 1.004],
  [5680, 1.005, 1.002, 0.998, 0.993, 0.909, 0.864, 0.859, 0.855],
  [5740, 0.854, 0.855, 0.857, 0.858, 0.86, 0.862, 0.864, 0.866, 0.958, 0.988, 0.996, 0.999, 1.002, 1.005],
  [5800, 1.004, 1.001, 0.997, 0.993, 0.985, 0.938, 0.863, 0.858, 0.855],
  [5865, 0.838, 0.84, 0.842, 0.844, 0.846, 0.848, 0.85, 0.852, 0.927, 0.98, 0.995, 0.999, 1.002, 1.005],
  [5925, 1.004, 1.001, 0.997, 0.992, 0.975, 0.89, 0.848, 0.843, 0.839],
  [5985, 0.839, 0.841, 0.843, 0.845, 0.847, 0.849, 0.851, 0.946, 0.986, 0.996, 0.999, 1.002, 1.005],
  [6045, 1.004, 1.001, 0.997, 0.993, 0.962, 0.872, 0.847, 0.842, 0.838],
  [6110, 0.824, 0.826, 0.828, 0.83, 0.832, 0.834, 0.836, 0.838, 0.902, 0.983, 0.994, 0.998, 1.001, 1.004],
  [6170, 1.005, 1.002, 0.998, 0.993, 0.97, 0.901, 0.834, 0.829, 0.825],
  [6230, 0.825, 0.827, 0.829, 0.831, 0.833, 0.835, 0.837, 0.952, 0.982, 0.995, 0.999, 1.002, 1.005],
  [6290, 1.004, 1.001, 0.997, 0.991, 0.935, 0.862, 0.833, 0.828, 0.824],
  [6355, 0.813, 0.815, 0.816, 0.818, 0.82, 0.822, 0.823, 0.825, 0.919, 0.985, 0.995, 0.999, 1.002, 1.005],
  [6415, 1.004, 1.001, 0.997, 0.99, 0.949, 0.87, 0.821, 0.816, 0.812],
  [6475, 0.812, 0.814, 0.815, 0.817, 0.819, 0.821, 0.822, 0.824, 0.892, 0.978, 0.995, 0.999, 1.002, 1.005],
  [6535, 1.004, 1.001, 0.997, 0.993, 0.963, 0.847, 0.822, 0.817, 0.813],
  [6600, 0.804, 0.805, 0.806, 0.808, 0.809, 0.811, 0.812, 0.814, 0.937, 0.982, 0.994, 0.998, 1.001, 1.004],
  [6660, 1.005, 1.002, 0.998, 0.988, 0.926, 0.853, 0.811, 0.807, 0.804],
  [6720, 0.803, 0.805, 0.806, 0.808, 0.809, 0.811, 0.813, 0.881, 0.98, 0.996, 0.999, 1.002, 1.005],
  [6780, 1.004, 1.001, 0.997, 0.991, 0.958, 0.864, 0.81, 0.806, 0.803],
  [6845, 0.796, 0.798, 0.799, 0.8, 0.802, 0.803, 0.805, 0.806, 0.911, 0.984, 0.995, 0.999, 1.002, 1.005],
  [6905, 1.004, 1.001, 0.997, 0.992, 0.944, 0.838, 0.805, 0.802, 0.799, 0.796],
  [6965, 0.797, 0.799, 0.8, 0.802, 0.803, 0.805, 0.88, 0.933, 0.987, 0.996, 0.999, 1.002, 1.005],
  [7025, 1.004, 1.001, 0.996, 0.99, 0.903, 0.836, 0.806, 0.803, 0.8, 0.797],
];

function toPoints(rows: number[][], dt: number) {
  const pts: { x: number; y: number }[] = [];
  for (const r of rows) for (let i = 1; i < r.length; i++) pts.push({ x: r[0] + (i - 1) * dt, y: r[i] });
  return pts;
}

const near = (list: number[], v: number) => list.some((g) => Math.abs(g - v) < 1e-6);

const decorations = {
  id: "decorations",
  afterDraw(chart: any) {
    const { ctx, chartArea: a, scales } = chart;
    const xs = scales.x;
    const ys = scales.y;
    ctx.save();
    ctx.strokeStyle = "#000";
    ctx.lineWidth = 2.5;
    ctx.beginPath();
    const xTick = (v: number, len: number) => {
      const p = xs.getPixelForValue(v);
      ctx.moveTo(p, a.bottom);
      ctx.lineTo(p, a.bottom - len);
      ctx.moveTo(p, a.top);
      ctx.lineTo(p, a.top + len);
    };
    const yTick = (v: number, len: number) => {
      const p = ys.getPixelForValue(v);
      ctx.moveTo(a.left, p);
      ctx.lineTo(a.left + len, p);
      ctx.moveTo(a.right, p);
      ctx.lineTo(a.right - len, p);
    };
    xMajorTicks.forEach((v) => xTick(v, 15));
    xMinorTicks.forEach((v) => xTick(v, 8));
    yMajorTicks.forEach((v) => yTick(v, 15));
    yMinorTicks.forEach((v) => yTick(v, 8));
    ctx.stroke();
    ctx.strokeRect(a.left, a.top, a.right - a.left, a.bottom - a.top);

    // legend
    const lx = a.left + 22;
    const ly = a.top + 504;
    const lw = 287;
    const lh = 90;
    ctx.fillStyle = "#fff";
    ctx.fillRect(lx, ly, lw, lh);
    ctx.lineWidth = 1;
    ctx.strokeStyle = "#222";
    ctx.strokeRect(lx + 0.5, ly + 0.5, lw, lh);
    const rows = [ly + 24, ly + 67];
    ctx.font = `34px ${FONT}`;
    ctx.textBaseline = "middle";
    ctx.textAlign = "left";
    rows.forEach((ry, i) => {
      ctx.strokeStyle = "#444";
      ctx.lineWidth = 1.5;
      ctx.beginPath();
      ctx.moveTo(lx + 6, ry);
      ctx.lineTo(lx + 86, ry);
      ctx.stroke();
      const mx = lx + 45;
      ctx.fillStyle = "#fff";
      ctx.lineWidth = 1.2;
      if (i === 0) {
        ctx.strokeStyle = "#000";
        ctx.fillRect(mx - 2.5, ry - 2.5, 5, 5);
        ctx.strokeRect(mx - 2.5, ry - 2.5, 5, 5);
      } else {
        ctx.strokeStyle = "#ff0000";
        ctx.beginPath();
        ctx.arc(mx, ry, 2.8, 0, Math.PI * 2);
        ctx.fill();
        ctx.stroke();
      }
      ctx.fillStyle = "#000";
      ctx.fillText(seriesLabels[i], lx + 96, ry);
    });

    // axis titles
    ctx.fillStyle = "#000";
    ctx.textAlign = "center";
    ctx.textBaseline = "middle";
    ctx.font = `38px ${FONT}`;
    ctx.fillText(xTitle, (a.left + a.right) / 2, 858);
    ctx.translate(33, 428);
    ctx.rotate(-Math.PI / 2);
    ctx.fillText(yTitle, 0, 0);
    ctx.restore();
  },
};

export default function App() {
  const ref = useRef<HTMLCanvasElement>(null);
  useEffect(() => {
    const canvas = ref.current;
    if (!canvas) return;
    const black = [
      ...toPoints(blackNoise, SAMPLE_DT),
      ...toPoints(blackOnset, SAMPLE_DT),
      ...toPoints(blackBursts, 0),
    ];
    const red = [...toPoints(redFlat, 0), ...toPoints(redFade, 0)];
    const chart = new Chart(canvas, {
      type: "scatter",
      data: {
        datasets: [
          {
            label: seriesLabels[1],
            data: red,
            showLine: true,
            order: 0,
            borderColor: "#111111",
            borderWidth: 1,
            pointStyle: "circle",
            pointRadius: 3,
            pointBorderWidth: 1.3,
            pointBorderColor: "#ff0000",
            pointBackgroundColor: "#ffffff",
            clip: 2,
          } as any,
          {
            label: seriesLabels[0],
            data: black,
            showLine: true,
            order: 1,
            borderColor: "#000000",
            borderWidth: 1,
            pointStyle: "rect",
            pointRadius: 3.6,
            pointBorderWidth: 1,
            pointBorderColor: "#000000",
            pointBackgroundColor: "#ffffff",
            clip: 2,
          } as any,
        ],
      },
      options: {
        animation: false,
        responsive: false,
        devicePixelRatio: 1,
        events: [],
        layout: { padding: { left: 0, top: 28, right: 48, bottom: 0 } },
        plugins: { legend: { display: false }, tooltip: { enabled: false } },
        scales: {
          x: {
            type: "linear",
            min: 0,
            max: 10000,
            afterFit: (s: any) => {
              s.height = 108;
              s.paddingLeft = 0;
              s.paddingRight = 0;
            },
            afterBuildTicks: (s: any) => {
              s.ticks = xMajorTicks.map((v) => ({ value: v }));
            },
            ticks: {
              autoSkip: false,
              maxRotation: 0,
              padding: 11,
              color: "#000",
              font: { family: FONT, size: 33 },
              callback: (v: any) => String(v),
            },
            grid: {
              drawTicks: false,
              lineWidth: 1,
              color: (c: any) => (c.tick && near(xGridValues, c.tick.value) ? "#8c8c8c" : "rgba(0,0,0,0)"),
            },
            border: { display: false },
          },
          y: {
            type: "linear",
            min: 0.8,
            max: 1.1,
            afterFit: (s: any) => {
              s.width = 133;
              s.paddingTop = 0;
              s.paddingBottom = 0;
            },
            afterBuildTicks: (s: any) => {
              s.ticks = yMajorTicks.map((v) => ({ value: v }));
            },
            ticks: {
              padding: 16,
              color: "#000",
              font: { family: FONT, size: 33 },
              callback: (v: any) => Number(v).toFixed(1).replace(".", ","),
            },
            grid: {
              drawTicks: false,
              lineWidth: 1,
              color: (c: any) => (c.tick && near(yGridValues, c.tick.value) ? "#8c8c8c" : "rgba(0,0,0,0)"),
            },
            border: { display: false },
          },
        },
      },
      plugins: [decorations],
    } as any);
    return () => chart.destroy();
  }, []);
  return (
    <div style={{ position: "absolute", left: 0, top: 0, width: 1110, height: 876, background: "#fff" }}>
      <canvas ref={ref} width={1110} height={876} style={{ display: "block", width: 1110, height: 876 }} />
    </div>
  );
}
